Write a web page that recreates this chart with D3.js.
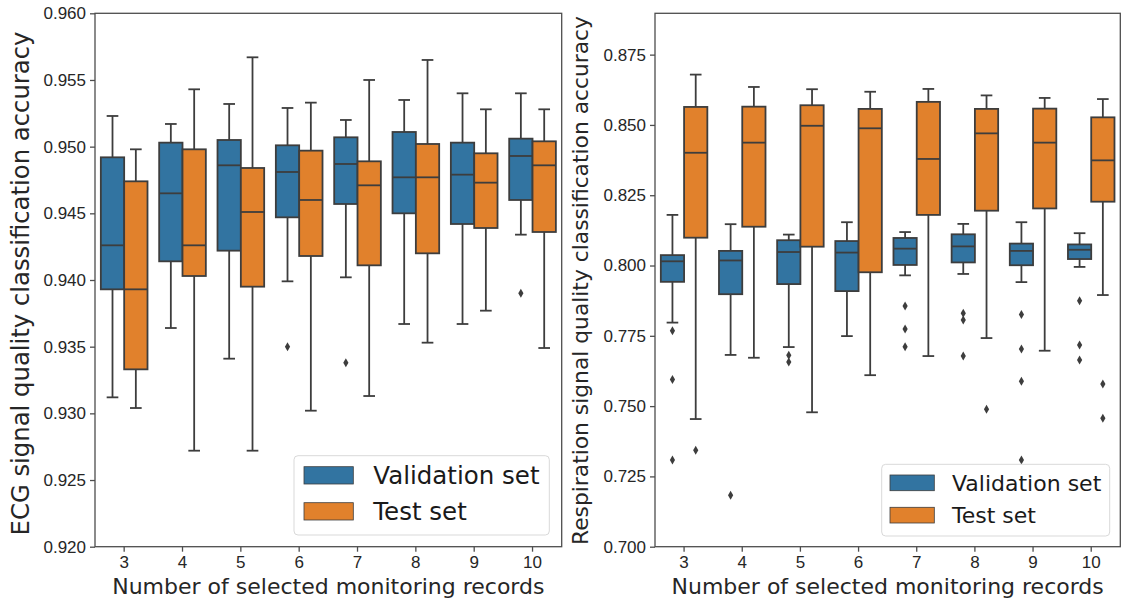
<!DOCTYPE html>
<meta charset="utf-8">
<style>
    body { margin: 0; background: #fff; }
    svg { font-family: "DejaVu Sans", sans-serif; }
    .axis text { fill: #262626; font-size: 17px; }
    .axis path, .axis line { stroke: #4d4d4d; stroke-width: 1.3; }
    .lbl { fill: #262626; }
</style>
<body>
<script src="https://cdn.jsdelivr.net/npm/d3@7"></script>
<script>

    // categories on the x axis
    var records = ["3", "4", "5", "6", "7", "8", "9", "10"];
    var hues = ["Validation set", "Test set"];

    // box stats per category: [whisker low, q1, median, q3, whisker high]
    var ecgVal = [
        [0.9312, 0.9393, 0.9426, 0.9492, 0.9523],
        [0.9364, 0.9414, 0.9465, 0.9503, 0.9517],
        [0.9341, 0.9422, 0.9486, 0.9505, 0.9532],
        [0.9399, 0.9447, 0.9481, 0.9501, 0.9529],
        [0.9402, 0.9457, 0.9487, 0.9507, 0.9520],
        [0.9367, 0.9450, 0.9477, 0.9511, 0.9535],
        [0.9367, 0.9442, 0.9479, 0.9503, 0.9540],
        [0.9434, 0.9460, 0.9493, 0.9506, 0.9540]
    ];
    var ecgValOut = [[], [], [], [0.9350], [0.9338], [], [], [0.9390]];
    var ecgTest = [
        [0.9304, 0.9333, 0.9393, 0.9474, 0.9498],
        [0.9272, 0.9403, 0.9426, 0.9498, 0.9543],
        [0.9272, 0.9395, 0.9451, 0.9484, 0.9567],
        [0.9302, 0.9418, 0.9460, 0.9497, 0.9533],
        [0.9313, 0.9411, 0.9471, 0.9489, 0.9550],
        [0.9353, 0.9420, 0.9477, 0.9502, 0.9565],
        [0.9377, 0.9439, 0.9473, 0.9495, 0.9528],
        [0.9349, 0.9436, 0.9486, 0.9504, 0.9528]
    ];
    var ecgTestOut = [[], [], [], [], [], [], [], []];

    var respVal = [
        [0.7797, 0.7942, 0.8015, 0.8037, 0.8180],
        [0.7682, 0.7898, 0.8018, 0.8052, 0.8147],
        [0.7710, 0.7934, 0.8048, 0.8090, 0.8110],
        [0.7749, 0.7909, 0.8046, 0.8087, 0.8154],
        [0.7965, 0.8002, 0.8060, 0.8098, 0.8119],
        [0.7970, 0.8011, 0.8068, 0.8111, 0.8148],
        [0.7941, 0.8001, 0.8052, 0.8078, 0.8154],
        [0.7995, 0.8023, 0.8056, 0.8075, 0.8115]
    ];
    var respValOut = [
        [0.7768, 0.7595, 0.7308],
        [0.7183],
        [0.7681, 0.7657],
        [],
        [0.7856, 0.7774, 0.7711],
        [0.7830, 0.7806, 0.7678],
        [0.7826, 0.7703, 0.7588, 0.7308],
        [0.7875, 0.7717, 0.7664]
    ];
    var respTest = [
        [0.7454, 0.8099, 0.8401, 0.8564, 0.8679],
        [0.7672, 0.8138, 0.8437, 0.8565, 0.8635],
        [0.7478, 0.8067, 0.8497, 0.8570, 0.8627],
        [0.7610, 0.7976, 0.8488, 0.8557, 0.8618],
        [0.7678, 0.8180, 0.8379, 0.8582, 0.8628],
        [0.7742, 0.8195, 0.8470, 0.8557, 0.8605],
        [0.7697, 0.8203, 0.8437, 0.8558, 0.8596],
        [0.7895, 0.8227, 0.8374, 0.8527, 0.8592]
    ];
    var respTestOut = [[0.7343], [], [], [], [], [0.7489], [], [0.7579, 0.7457]];

    var ecgTicks = [0.920, 0.925, 0.930, 0.935, 0.940, 0.945, 0.950, 0.955, 0.960];
    var respTicks = [0.700, 0.725, 0.750, 0.775, 0.800, 0.825, 0.850, 0.875];

    var colors = ["#3274a1", "#e1812c"];
    var lineColor = "#3d3d3d";

    var svg = d3.select("body").append("svg")
            .attr("width", 1121)
            .attr("height", 603);

    function panel(opt) {
        var x = d3.scaleBand().domain(records).range([opt.left, opt.right]).padding(0);
        var y = d3.scaleLinear().domain(opt.domain).range([546.7, 13.3]);
        var bw = x.bandwidth() * 0.8 / 2;

        var g = svg.append("g");

        g.append("g")
                .attr("class", "axis")
                .attr("transform", "translate(" + opt.left + ",0)")
                .call(d3.axisLeft(y).tickValues(opt.ticks).tickFormat(d3.format(".3f")).tickSize(5).tickPadding(4))
                .call(function(a) { a.select(".domain").remove(); });

        g.append("g")
                .attr("class", "axis")
                .attr("transform", "translate(0,546.7)")
                .call(d3.axisBottom(x).tickSize(5).tickPadding(4))
                .call(function(a) { a.select(".domain").remove(); });

        [opt.val, opt.test].forEach(function(series, h) {
            var outs = h === 0 ? opt.valOut : opt.testOut;
            series.forEach(function(s, i) {
                var cx = x(records[i]) + x.bandwidth() / 2 + (h === 0 ? -bw / 2 : bw / 2);
                var bg = g.append("g");
                // whiskers
                bg.append("line").attr("x1", cx).attr("x2", cx).attr("y1", y(s[0])).attr("y2", y(s[1]));
                bg.append("line").attr("x1", cx).attr("x2", cx).attr("y1", y(s[3])).attr("y2", y(s[4]));
                bg.append("line").attr("x1", cx - bw / 4).attr("x2", cx + bw / 4).attr("y1", y(s[0])).attr("y2", y(s[0]));
                bg.append("line").attr("x1", cx - bw / 4).attr("x2", cx + bw / 4).attr("y1", y(s[4])).attr("y2", y(s[4]));
                bg.append("rect")
                        .attr("x", cx - bw / 2).attr("width", bw)
                        .attr("y", y(s[3])).attr("height", y(s[1]) - y(s[3]))
                        .attr("fill", colors[h]);
                bg.append("line").attr("x1", cx - bw / 2).attr("x2", cx + bw / 2).attr("y1", y(s[2])).attr("y2", y(s[2]));
                bg.selectAll("line, rect").attr("stroke", lineColor).attr("stroke-width", 1.8);
                outs[i].forEach(function(v) {
                    bg.append("path")
                            .attr("d", "M0,-4.5L2.6,0L0,4.5L-2.6,0Z")
                            .attr("transform", "translate(" + cx + "," + y(v) + ")")
                            .attr("fill", lineColor);
                });
            });
        });

        // frame
        g.append("rect")
                .attr("x", opt.left).attr("y", 13.3)
                .attr("width", opt.right - opt.left).attr("height", 546.7 - 13.3)
                .attr("fill", "none").attr("stroke", "#4d4d4d").attr("stroke-width", 1.3);

        g.append("text")
                .attr("class", "lbl")
                .attr("font-size", "22px")
                .attr("x", (opt.left + opt.right) / 2)
                .attr("y", 594)
                .attr("text-anchor", "middle")
                .text("Number of selected monitoring records");

        g.append("text")
                .attr("class", "lbl")
                .attr("font-size", opt.ylabFs + "px")
                .attr("transform", "translate(" + opt.ylabX + "," + opt.ylabY + ") rotate(-90)")
                .attr("text-anchor", "middle")
                .text(opt.ylabel);

        // legend
        var L = opt.legend;
        var lg = g.append("g");
        lg.append("rect")
                .attr("x", L.x).attr("y", L.y).attr("width", L.w).attr("height", L.h)
                .attr("rx", 4).attr("fill", "#fff").attr("fill-opacity", 0.8)
                .attr("stroke", "#d9d9d9").attr("stroke-width", 1);
        hues.forEach(function(name, h) {
            lg.append("rect")
                    .attr("x", L.px).attr("y", L.rows[h])
                    .attr("width", L.pw).attr("height", L.ph)
                    .attr("fill", colors[h]).attr("stroke", lineColor).attr("stroke-width", 0.8);
            lg.append("text")
                    .attr("x", L.tx).attr("y", L.rows[h] + L.ph)
                    .attr("font-size", L.fs + "px")
                    .attr("fill", "#1a1a1a")
                    .text(name);
        });
    }

    panel({
        left: 95, right: 561.7, domain: [0.920, 0.960], ticks: ecgTicks,
        val: ecgVal, valOut: ecgValOut, test: ecgTest, testOut: ecgTestOut,
        ylabel: "ECG signal quality classification accuracy", ylabX: 28.5, ylabY: 283.5, ylabFs: 24.3,
        legend: {x: 294, y: 455.7, w: 255.3, h: 79.3, px: 304, pw: 49.3, ph: 17.3,
                 rows: [466.7, 502.7], tx: 373.3, fs: 24.5}
    });

    panel({
        left: 655, right: 1120.3, domain: [0.700, 0.8897], ticks: respTicks,
        val: respVal, valOut: respValOut, test: respTest, testOut: respTestOut,
        ylabel: "Respiration signal quality classification accuracy", ylabX: 587.5, ylabY: 280.5, ylabFs: 21.8,
        legend: {x: 881.7, y: 464.3, w: 228, h: 71.7, px: 890, pw: 44.3, ph: 15.7,
                 rows: [475, 507.3], tx: 952, fs: 22}
    });

</script>
